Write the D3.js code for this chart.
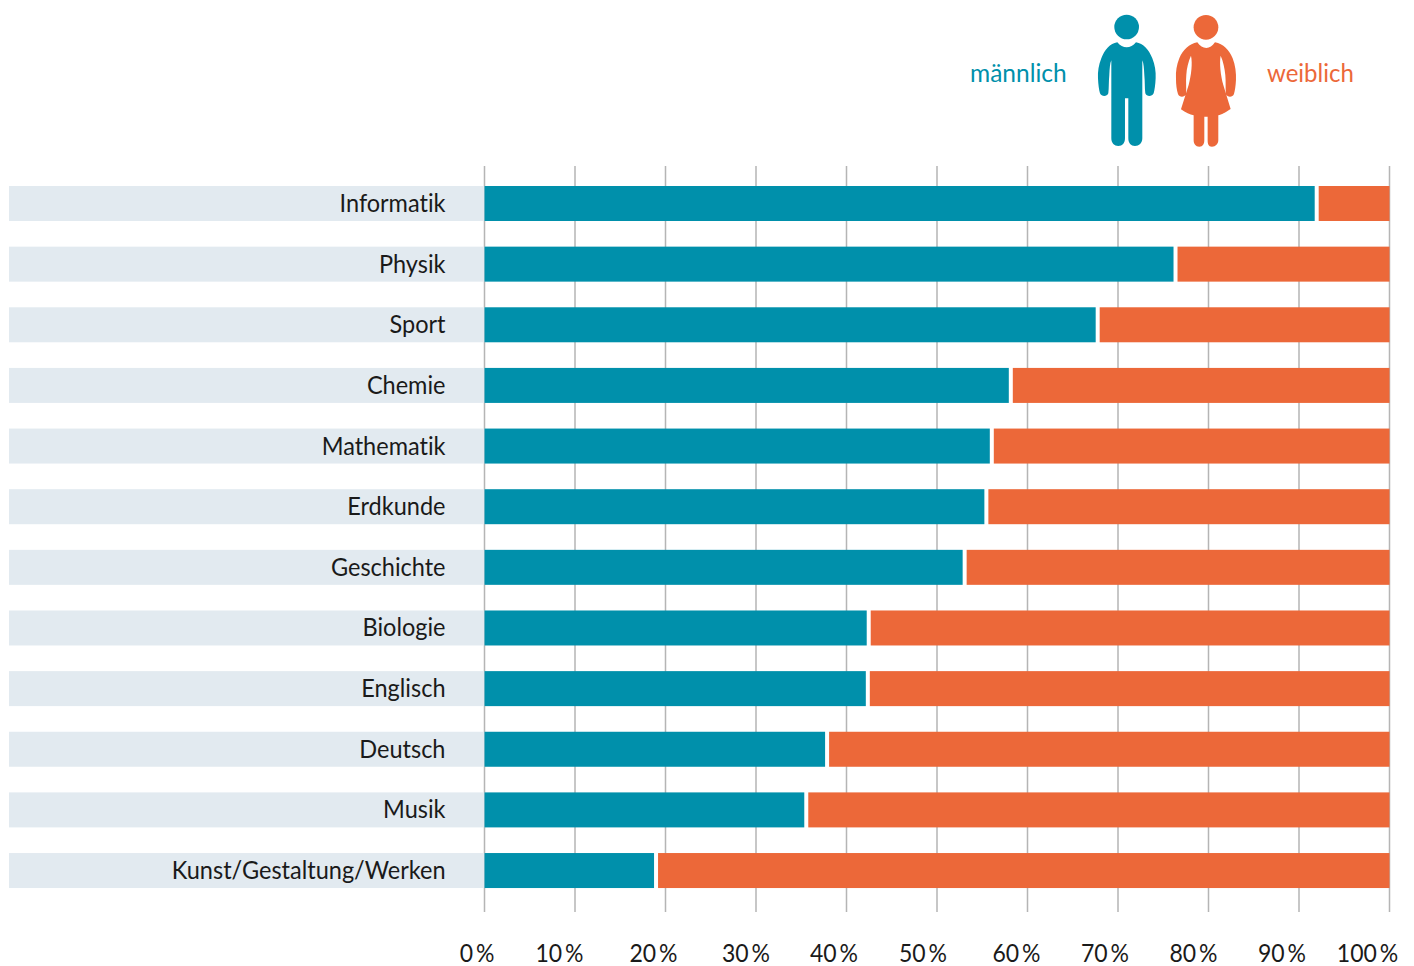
<!DOCTYPE html>
<html><head><meta charset="utf-8">
<script src="https://cdn.jsdelivr.net/npm/d3@7"></script>
<style>html,body{margin:0;background:#fff}svg{display:block}text{font-family:Lato,sans-serif;font-size:25px;fill:#1a1a1a;font-variant-ligatures:none}</style>
</head><body><svg id="c" width="1414" height="966"></svg>
<script>
const categories=["Informatik","Physik","Sport","Chemie","Mathematik","Erdkunde","Geschichte","Biologie","Englisch","Deutsch","Musik","Kunst/Gestaltung/Werken"];
const maleValues=[91.9,76.3,67.7,58.1,56,55.4,53,42.4,42.3,37.8,35.5,18.9];
const femaleValues=[8.1,23.7,32.3,41.9,44,44.6,47,57.6,57.7,62.2,64.5,81.1];
const tickValues=[0,10,20,30,40,50,60,70,80,90,100];
const tickLabelShift=[-7.5,-15.5,-12,-10,-12.5,-14,-11,-13,-15,-17,-22];
const TEAL="#0090ab",ORANGE="#ec6839",BAND="#e2eaf0",GRID="#b5b5b5";
const svg=d3.select("#c");
const x=d3.scaleLinear().domain([0,100]).range([484.5,1389.5]);
const bh=35,gapM=1.5,gapF=1.5+1;
const yPos=d=>186+60.64*categories.indexOf(d);
const squeeze=(sel,k)=>sel.each(function(){
  const t=d3.select(this);
  t.attr("lengthAdjust","spacingAndGlyphs").attr("textLength",this.getComputedTextLength()*k);
});
const axis=d3.axisBottom(x).tickValues(tickValues).tickSize(746).offset(0).tickFormat(d=>d+"\u2009%");
const ag=svg.append("g").attr("transform","translate(0,166)").call(axis);
ag.select(".domain").remove();
ag.selectAll("line").attr("stroke",GRID).attr("stroke-width",1.5);
ag.selectAll("text").attr("y",0).attr("dy",0).attr("text-anchor","middle")
  .attr("transform",(d,i)=>`translate(${tickLabelShift[i]},796)`).style("font-size","25px").call(squeeze,0.92);
svg.append("g").selectAll("rect").data(categories).join("rect")
  .attr("x",9).attr("width",x(0)-9).attr("y",yPos).attr("height",bh).attr("fill",BAND);
svg.append("g").selectAll("rect").data(categories).join("rect")
  .attr("x",x(0)).attr("width",(d,i)=>x(maleValues[i])-x(0)-gapM).attr("y",yPos).attr("height",bh).attr("fill",TEAL);
svg.append("g").selectAll("rect").data(categories).join("rect")
  .attr("x",(d,i)=>x(100-femaleValues[i])+gapF).attr("width",(d,i)=>x(100)-x(100-femaleValues[i])-gapF).attr("y",yPos).attr("height",bh).attr("fill",ORANGE);
svg.append("g").selectAll("text").data(categories).join("text")
  .attr("x",445.5).attr("y",d=>yPos(d)+26).attr("text-anchor","end").text(d=>d).call(squeeze,0.94);
// legend
svg.append("text").attr("x",970).attr("y",82).text("männlich").style("fill",TEAL).call(squeeze,0.98);
svg.append("text").attr("x",1267).attr("y",82).text("weiblich").style("fill",ORANGE).call(squeeze,0.96);
const ic=svg.append("g").attr("transform","translate(960,0) scale(0.3333)");
ic.append("circle").attr("cx",500).attr("cy",81).attr("r",37).attr("fill",TEAL);
ic.append("path").attr("fill",TEAL).attr("d","M472 127C480 138 490 142 500 142C510 142 520 138 528 127C550 130 567 150 577 175C585 195 588 215 587 235C586 255 584 270 581 280C576 291 560 291 556 280C554 265 555 245 553 225C552 205 551 190 547 181L547 415C547 430 537 438 525 438C513 438 505 430 505 415L505 295L495 295L495 415C495 430 487 438 475 438C463 438 454 430 454 415L454 181C450 190 449 205 448 225C446 245 447 265 445 280C441 291 425 291 420 280C417 270 415 255 414 235C413 215 416 195 424 175C434 150 450 130 472 127Z");
ic.append("circle").attr("cx",738).attr("cy",82).attr("r",37).attr("fill",ORANGE);
ic.append("path").attr("fill",ORANGE).attr("d","M712 127C720 138 729 144 739 144C749 144 757 138 765 127C790 132 808 150 818 175C826 195 829 220 828 240C827 258 825 272 822 282C818 293 802 293 798 282C796 265 798 245 796 225C794 205 790 185 782 167C778 190 782 225 790 255L812 327C795 338 785 344 775 346L775 420C775 432 767 440 756 440C745 440 743 432 743 420L743 350L733 350L733 420C733 432 729 440 718 440C707 440 701 432 701 420L701 346C690 344 677 338 663 328L686 255C694 225 698 190 693 167C685 185 680 205 679 225C677 245 680 265 678 282C674 293 658 293 654 282C650 270 648 255 648 235C647 215 650 195 658 175C668 150 688 132 712 127Z");
</script></body></html>
